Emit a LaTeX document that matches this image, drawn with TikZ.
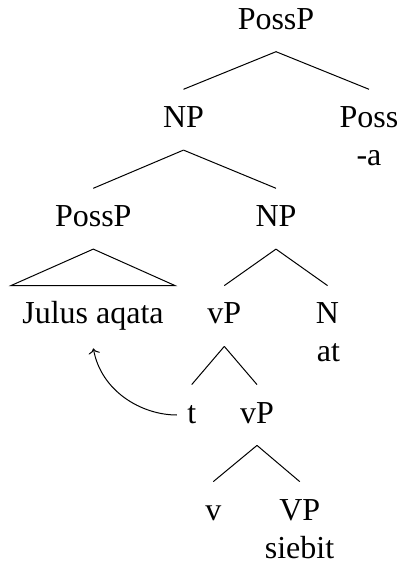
\documentclass[tikz,border=0pt]{standalone}
\usepackage{fontspec}
\setmainfont{Liberation Serif}
\usetikzlibrary{arrows.meta}

\begin{document}
\begin{tikzpicture}[x=0.5pt, y=-0.5pt,
  lbl/.style={anchor=base, inner sep=0pt, text height=19pt, text depth=11pt, font=\fontsize{16}{19}\selectfont},
  branch/.style={line width=0.5pt},
  move/.style={line width=0.5pt, ->, shorten <=5pt, shorten >=1pt}]

\useasboundingbox (0,0) rectangle (400,565);

\node[lbl] (root) at (276,29.3) {PossP};
\node[lbl] (np1) at (183.5,127.7) {NP};
\node[lbl] (poss) at (369,127.7) {Poss};
\node[lbl] (possa) at (369,165.2) {-a};
\node[lbl] (poss2) at (93.3,226.7) {PossP};
\node[lbl] (np2) at (276,226.7) {NP};
\node[lbl, inner xsep=5.5pt] (julus) at (93,324) {Julus aqata};
\node[lbl] (vp1) at (224.3,324) {vP};
\node[lbl] (n) at (327.5,324) {N};
\node[lbl] (at) at (328.5,361.7) {at};
\node[lbl] (t) at (191.7,423) {t};
\node[lbl] (vp2) at (257,423) {vP};
\node[lbl] (v) at (213.3,520) {v};
\node[lbl] (vp) at (299.7,520) {VP};
\node[lbl] (siebit) at (299.5,558) {siebit};

\draw [branch] (root.south) -- (np1.north);
\draw [branch] (root.south) -- (poss.north);
\draw [branch] (np1.south) -- (poss2.north);
\draw [branch] (np1.south) -- (np2.north);
\draw [branch] (poss2.south) -- (julus.north west) -- (julus.north east) -- cycle;
\draw [branch] (np2.south) -- (vp1.north);
\draw [branch] (np2.south) -- (n.north);
\draw [branch] (vp1.south) -- (t.north);
\draw [branch] (vp1.south) -- (vp2.north);
\draw [branch] (vp2.south) -- (v.north);
\draw [branch] (vp2.south) -- (vp.north);

\draw [move] (t.west) to[out=180, in=-80] (julus.south);

\end{tikzpicture}
\end{document}
